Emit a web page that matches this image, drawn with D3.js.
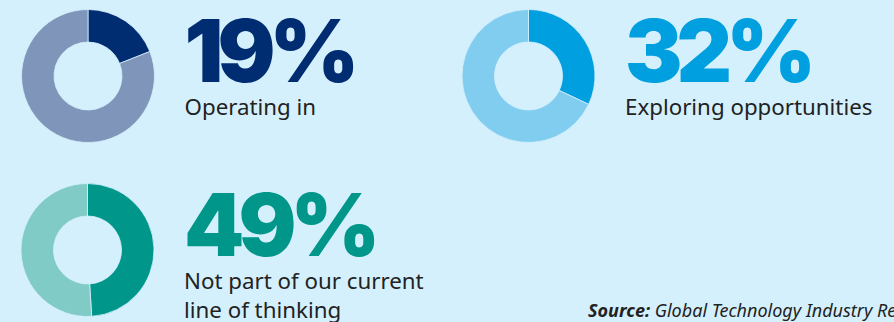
<!DOCTYPE html>
<html>
<head>
<meta charset="utf-8">
<script src="https://cdn.jsdelivr.net/npm/d3@7"></script>
<style>
  html, body { margin: 0; padding: 0; background: #d5f0fd; }
  svg { display: block; }
</style>
</head>
<body>
<div id="chart"></div>
<script>
const width = 894;
const height = 322;

const values = [19, 32, 49];
const labels = [['Operating in'], ['Exploring opportunities'], ['Not part of our current', 'line of thinking']];
const darkColors = ['#002d72', '#009fe0', '#00968a'];
const lightColors = ['#7f96ba', '#80cdf0', '#80cbc5'];
const sourceText = 'Global Technology Industry Report';

// where each panel sits (donut centre)
const centres = [[88, 76], [528.5, 76], [87.5, 250]];

const outerRadius = 66.5;
const innerRadius = 34;

const svg = d3.select('#chart')
  .append('svg')
  .attr('width', width)
  .attr('height', height);

const pie = d3.pie().sort(null).value(d => d);
const arc = d3.arc().innerRadius(innerRadius).outerRadius(outerRadius);

values.forEach((v, i) => {
  const [cx, cy] = centres[i];
  const g = svg.append('g').attr('transform', `translate(${cx},${cy})`);

  g.selectAll('path')
    .data(pie([v, 100 - v]))
    .enter()
    .append('path')
    .attr('d', arc)
    .attr('fill', (d, j) => j === 0 ? darkColors[i] : lightColors[i])
    .attr('stroke', '#d5f0fd')
    .attr('stroke-width', 0.8);

  const tx = cx + 97.5;
  svg.append('text')
    .attr('x', tx - 1)
    .attr('y', cy + 6)
    .attr('font-family', 'Inter, sans-serif')
    .attr('font-weight', 900)
    .attr('font-size', 86)
    .attr('letter-spacing', -6)
    .attr('fill', darkColors[i])
    .text(`${v}%`);

  labels[i].forEach((line, k) => {
    svg.append('text')
      .attr('x', tx - 1)
      .attr('y', cy + 39 + k * 28.5)
      .attr('font-family', '"Noto Sans", sans-serif')
      .attr('font-size', 22.3)
      .attr('fill', '#222')
      .text(line);
  });
});

const src = svg.append('text')
  .attr('x', 588)
  .attr('y', 317)
  .attr('font-family', '"Noto Sans", sans-serif')
  .attr('font-size', 18)
  .attr('font-style', 'italic')
  .attr('fill', '#222');
src.append('tspan').attr('font-weight', 700).text('Source:');
src.append('tspan').text(' ' + sourceText);
</script>
</body>
</html>
